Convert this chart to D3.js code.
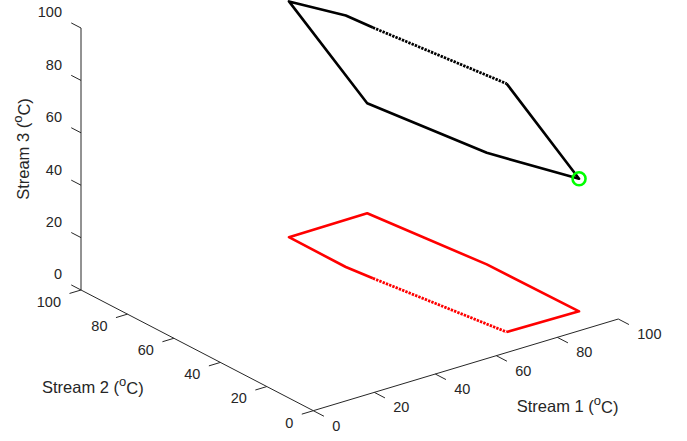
<!DOCTYPE html>
<html>
<head>
<meta charset="utf-8">
<script src="https://cdn.jsdelivr.net/npm/d3@7"></script>
<style>
  body { margin: 0; background: #fff; }
  text { font-family: "Liberation Sans", Arial, sans-serif; fill: #262626; }
</style>
</head>
<body>
<svg width="687" height="441"></svg>
<script>
// loop of the three stream temperatures (deg C), closed polygon
var stream1 = [64.3, 64.2, 65.3, 71.6, 94.9, 94.5, 90.1];
var stream2 = [94.9, 70.3, 60.1, 10.8, 10.2, 49.4, 95.1];
var stream3 = [90.0, 96.0, 95.7, 94.8, 50.6, 42.6, 42.0];
var dottedFrom = 2;      // segment 2 -> 3 is drawn dotted
var markerIndex = 4;     // green circle
var floorLevel = 0;      // red trace sits on Stream 3 = 0
var tickValues = [0, 20, 40, 60, 80, 100];

var svg = d3.select("svg");

// projection of the 3-D box onto the page
var origin = [313.3, 410.7],
    ex = [305, -91.7],
    ey = [-232.3, -120.7],
    ez = [0, -262];

var xScale = d3.scaleLinear().domain([0, 100]).range([0, 1]),
    yScale = d3.scaleLinear().domain([0, 100]).range([0, 1]),
    zScale = d3.scaleLinear().domain([0, 100]).range([0, 1]);

function proj(x, y, z) {
    var a = xScale(x), b = yScale(y), c = zScale(z);
    return [origin[0] + a * ex[0] + b * ey[0] + c * ez[0],
            origin[1] + a * ex[1] + b * ey[1] + c * ez[1]];
}
function unit(v, s) {
    var l = Math.sqrt(v[0] * v[0] + v[1] * v[1]);
    return [v[0] / l * s, v[1] / l * s];
}

var axisColor = "#262626";
var g = svg.append("g");

// axis lines
var axes = [
    [proj(0, 0, 0), proj(100, 0, 0)],
    [proj(0, 0, 0), proj(0, 100, 0)],
    [proj(0, 100, 0), proj(0, 100, 100)]
];
g.selectAll(".axis").data(axes).enter().append("line")
    .attr("class", "axis")
    .attr("x1", function(d) { return d[0][0]; })
    .attr("y1", function(d) { return d[0][1]; })
    .attr("x2", function(d) { return d[1][0]; })
    .attr("y2", function(d) { return d[1][1]; })
    .attr("stroke", axisColor).attr("stroke-width", 1);

function ticks(cls, pos, dir, lab) {
    var tg = g.selectAll("." + cls).data(tickValues).enter().append("g").attr("class", cls);
    tg.append("line")
        .attr("x1", function(d) { return pos(d)[0]; })
        .attr("y1", function(d) { return pos(d)[1]; })
        .attr("x2", function(d) { return pos(d)[0] + dir[0]; })
        .attr("y2", function(d) { return pos(d)[1] + dir[1]; })
        .attr("stroke", axisColor).attr("stroke-width", 1);
    tg.append("text")
        .attr("x", function(d) { return pos(d)[0] + lab.dx; })
        .attr("y", function(d) { return pos(d)[1] + lab.dy; })
        .attr("text-anchor", lab.anchor)
        .attr("dominant-baseline", "middle")
        .style("font-size", "14.5px")
        .text(function(d) { return d; });
}

ticks("xtick", function(t) { return proj(t, 0, 0); }, unit([-ey[0], -ey[1]], 12),
      {dx: 19, dy: 16, anchor: "start"});
ticks("ytick", function(t) { return proj(0, t, 0); }, unit([-ex[0], -ex[1]], 12),
      {dx: -20, dy: 13, anchor: "end"});
ticks("ztick", function(t) { return proj(0, 100, t); }, unit(ey, 11),
      {dx: -19, dy: -14.5, anchor: "end"});

// axis labels with superscript o
function axisLabel(x, y, num, rotate) {
    var t = g.append("text")
        .attr("transform", "translate(" + x + "," + y + ")" + (rotate ? " rotate(-90)" : ""))
        .attr("text-anchor", rotate ? "middle" : "start")
        .style("font-size", "16.5px");
    t.append("tspan").text("Stream " + num + " (");
    t.append("tspan").attr("dy", "-0.5em").style("font-size", "13px").text("o");
    t.append("tspan").attr("dy", "0.5em").text("C)");
}
axisLabel(516.7, 411.7, 1, false);
axisLabel(42, 392.7, 2, false);
axisLabel(28.5, 149, 3, true);

// build polylines
var n = stream1.length;
function pts(zArr) {
    return d3.range(n).map(function(i) {
        return proj(stream1[i], stream2[i], zArr ? zArr[i] : floorLevel);
    });
}
function solidPart(p) {
    var order = [];
    for (var k = 1; k <= n; k++) order.push(p[(dottedFrom + k) % n]);
    order.push(p[dottedFrom]);
    return order;
}
function dottedPart(p) {
    return [p[dottedFrom], p[(dottedFrom + 1) % n]];
}

var line = d3.line();
function drawTrace(p, color) {
    g.append("path").attr("d", line(solidPart(p)))
        .attr("fill", "none").attr("stroke", color)
        .attr("stroke-width", 2.6).attr("stroke-linejoin", "round");
    g.append("path").attr("d", line(dottedPart(p)))
        .attr("fill", "none").attr("stroke", color)
        .attr("stroke-width", 2.8).attr("stroke-dasharray", "2.4,1.1");
}

var redPts = pts(null),
    blackPts = pts(stream3);
drawTrace(redPts, "#ff0000");
drawTrace(blackPts, "#000000");

g.append("circle")
    .attr("cx", blackPts[markerIndex][0])
    .attr("cy", blackPts[markerIndex][1])
    .attr("r", 6.5)
    .attr("fill", "none")
    .attr("stroke", "#00ff00")
    .attr("stroke-width", 2.6);
</script>
</body>
</html>
